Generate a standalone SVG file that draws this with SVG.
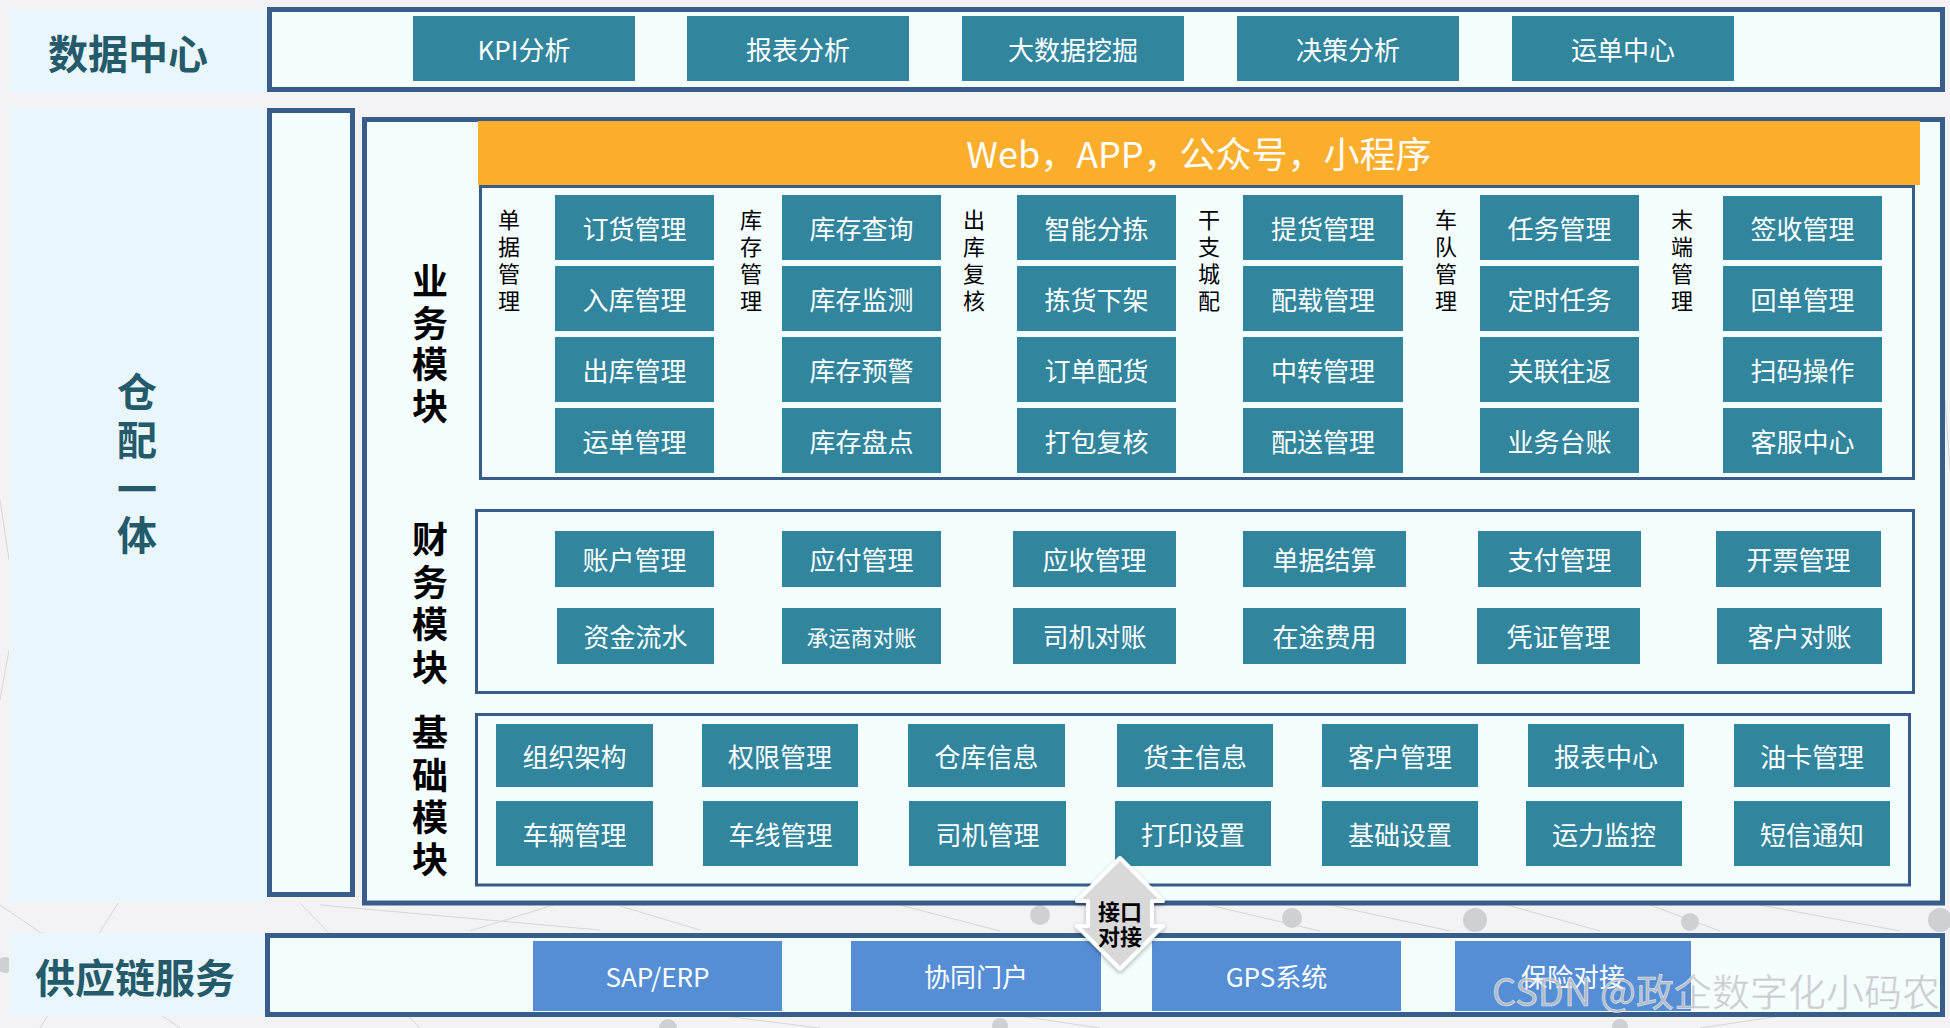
<svg xmlns="http://www.w3.org/2000/svg" width="1950" height="1028" viewBox="0 0 1950 1028">
<defs>
<style>
.lbl{fill:#e9f7fc}
.frm{fill:#f4fefe;stroke:#385d8a;stroke-width:5}
.frm3{fill:#f4fefe;stroke:#385d8a;stroke-width:3}
.t{fill:#31859c}
.b{fill:#558ed5}
.tx{font-family:"Noto Sans CJK SC","Noto Sans",sans-serif;font-size:26px;fill:#ffffff;text-anchor:middle;dominant-baseline:central}
.sm{font-size:22px}
.sub{font-family:"Noto Sans CJK SC","Noto Sans",sans-serif;font-size:22px;fill:#000000;text-anchor:middle;dominant-baseline:central}
.mod{font-family:"Noto Sans CJK SC","Noto Sans",sans-serif;font-size:36px;font-weight:bold;fill:#000000;text-anchor:middle;dominant-baseline:central}
.big{font-family:"Noto Sans CJK SC","Noto Sans",sans-serif;font-size:40px;font-weight:bold;fill:#245a69;text-anchor:middle;dominant-baseline:central}
.net{stroke:#d6d6d9;stroke-width:1;fill:none}
.dot{fill:#cfd0d4}
</style>
<filter id="sh" x="-30%" y="-30%" width="160%" height="160%">
<feDropShadow dx="0" dy="2" stdDeviation="2" flood-color="#000" flood-opacity="0.3"/>
</filter>
</defs>
<rect x="0" y="0" width="1950" height="1028" fill="#f3f3f5"/>
<g id="background-network">
<path class="net" d="M0 905 L180 1028 M120 900 L40 1028 M300 903 L420 1028 M560 903 L470 931 M700 1013 L820 1028 M900 905 L1000 931 M1200 903 L1320 931 M1330 905 L1450 931 M1500 903 L1600 931 M1650 905 L1720 931 M1760 905 L1900 931 M1800 1013 L1700 1028 M1000 1013 L1100 1028 M0 500 L9 560 M0 700 L9 650 M1945 400 L1950 470 M320 905 L600 930 M620 906 L700 930"/>
<circle class="dot" cx="1040" cy="915" r="10"/>
<circle class="dot" cx="1292" cy="918" r="10"/>
<circle class="dot" cx="1475" cy="920" r="12"/>
<circle class="dot" cx="1690" cy="922" r="9"/>
<circle class="dot" cx="1940" cy="920" r="12"/>
<circle class="dot" cx="1000" cy="1026" r="8"/>
<circle class="dot" cx="668" cy="1028" r="9"/>
<circle class="dot" cx="1620" cy="1027" r="8"/>
<circle class="dot" cx="5" cy="965" r="8"/>
</g>
<g id="datacenter-label">
<rect class="lbl" x="9" y="9" width="257" height="84"/>
<text class="big" x="128" y="52">数据中心</text>
</g>
<g id="datacenter">
<rect class="frm" x="269.5" y="9.5" width="1673" height="80"/>
<g id="kpi"><rect class="t" x="413" y="16" width="222" height="65"/><text class="tx" x="524" y="48">KPI分析</text></g>
<g id="baobiao"><rect class="t" x="687" y="16" width="222" height="65"/><text class="tx" x="798" y="48">报表分析</text></g>
<g id="dashuju"><rect class="t" x="962" y="16" width="222" height="65"/><text class="tx" x="1073" y="48">大数据挖掘</text></g>
<g id="juece"><rect class="t" x="1237" y="16" width="222" height="65"/><text class="tx" x="1348" y="48">决策分析</text></g>
<g id="yundan"><rect class="t" x="1512" y="16" width="222" height="65"/><text class="tx" x="1623" y="48">运单中心</text></g>
</g>
<g id="cangpei-label">
<rect class="lbl" x="9" y="109" width="257" height="794"/>
<text class="big" x="137" y="390">仓</text>
<text class="big" x="137" y="438">配</text>
<text class="big" x="137" y="487">一</text>
<text class="big" x="137" y="533">体</text>
</g>
<g id="side-column">
<rect class="frm" x="269.5" y="110.5" width="83" height="784"/>
</g>
<g id="main-frame">
<rect class="frm" x="364.5" y="119.5" width="1578" height="783.5"/>
</g>
<g id="channels">
<rect x="478" y="121" width="1442" height="64" fill="#fbae2c"/>
<text class="tx" style="font-size:36px" x="1199" y="152">Web，APP，公众号，小程序</text>
</g>
<g id="business-module">
<rect class="frm3" x="480.5" y="186.5" width="1433" height="292"/>
<text class="mod" x="430" y="279">业</text>
<text class="mod" x="430" y="321">务</text>
<text class="mod" x="430" y="362">模</text>
<text class="mod" x="430" y="404">块</text>
<g id="danju">
<text class="sub" x="509" y="218">单</text><text class="sub" x="509" y="245">据</text><text class="sub" x="509" y="272">管</text><text class="sub" x="509" y="299">理</text>
<rect class="t" x="555" y="195" width="159" height="65"/><text class="tx" x="634.5" y="227">订货管理</text>
<rect class="t" x="555" y="266" width="159" height="65"/><text class="tx" x="634.5" y="298">入库管理</text>
<rect class="t" x="555" y="337" width="159" height="65"/><text class="tx" x="634.5" y="369">出库管理</text>
<rect class="t" x="555" y="408" width="159" height="65"/><text class="tx" x="634.5" y="440">运单管理</text>
</g>
<g id="kucun">
<text class="sub" x="751" y="218">库</text><text class="sub" x="751" y="245">存</text><text class="sub" x="751" y="272">管</text><text class="sub" x="751" y="299">理</text>
<rect class="t" x="782" y="195" width="159" height="65"/><text class="tx" x="861.5" y="227">库存查询</text>
<rect class="t" x="782" y="266" width="159" height="65"/><text class="tx" x="861.5" y="298">库存监测</text>
<rect class="t" x="782" y="337" width="159" height="65"/><text class="tx" x="861.5" y="369">库存预警</text>
<rect class="t" x="782" y="408" width="159" height="65"/><text class="tx" x="861.5" y="440">库存盘点</text>
</g>
<g id="chuku">
<text class="sub" x="974" y="218">出</text><text class="sub" x="974" y="245">库</text><text class="sub" x="974" y="272">复</text><text class="sub" x="974" y="299">核</text>
<rect class="t" x="1017" y="195" width="159" height="65"/><text class="tx" x="1096.5" y="227">智能分拣</text>
<rect class="t" x="1017" y="266" width="159" height="65"/><text class="tx" x="1096.5" y="298">拣货下架</text>
<rect class="t" x="1017" y="337" width="159" height="65"/><text class="tx" x="1096.5" y="369">订单配货</text>
<rect class="t" x="1017" y="408" width="159" height="65"/><text class="tx" x="1096.5" y="440">打包复核</text>
</g>
<g id="ganzhi">
<text class="sub" x="1209" y="218">干</text><text class="sub" x="1209" y="245">支</text><text class="sub" x="1209" y="272">城</text><text class="sub" x="1209" y="299">配</text>
<rect class="t" x="1243" y="195" width="160" height="65"/><text class="tx" x="1323" y="227">提货管理</text>
<rect class="t" x="1243" y="266" width="160" height="65"/><text class="tx" x="1323" y="298">配载管理</text>
<rect class="t" x="1243" y="337" width="160" height="65"/><text class="tx" x="1323" y="369">中转管理</text>
<rect class="t" x="1243" y="408" width="160" height="65"/><text class="tx" x="1323" y="440">配送管理</text>
</g>
<g id="chedui">
<text class="sub" x="1446" y="218">车</text><text class="sub" x="1446" y="245">队</text><text class="sub" x="1446" y="272">管</text><text class="sub" x="1446" y="299">理</text>
<rect class="t" x="1480" y="195" width="159" height="65"/><text class="tx" x="1559.5" y="227">任务管理</text>
<rect class="t" x="1480" y="266" width="159" height="65"/><text class="tx" x="1559.5" y="298">定时任务</text>
<rect class="t" x="1480" y="337" width="159" height="65"/><text class="tx" x="1559.5" y="369">关联往返</text>
<rect class="t" x="1480" y="408" width="159" height="65"/><text class="tx" x="1559.5" y="440">业务台账</text>
</g>
<g id="moduan">
<text class="sub" x="1682" y="218">末</text><text class="sub" x="1682" y="245">端</text><text class="sub" x="1682" y="272">管</text><text class="sub" x="1682" y="299">理</text>
<rect class="t" x="1723" y="196" width="159" height="64"/><text class="tx" x="1802.5" y="227">签收管理</text>
<rect class="t" x="1723" y="266" width="159" height="65"/><text class="tx" x="1802.5" y="298">回单管理</text>
<rect class="t" x="1723" y="337" width="159" height="65"/><text class="tx" x="1802.5" y="369">扫码操作</text>
<rect class="t" x="1723" y="408" width="159" height="65"/><text class="tx" x="1802.5" y="440">客服中心</text>
</g>
</g>
<g id="finance-module">
<rect class="frm3" x="476.5" y="510.5" width="1437" height="182"/>
<text class="mod" x="430" y="537">财</text>
<text class="mod" x="430" y="580">务</text>
<text class="mod" x="430" y="622">模</text>
<text class="mod" x="430" y="665">块</text>
<g id="zhanghu"><rect class="t" x="555" y="531" width="159" height="56"/><text class="tx" x="634.5" y="558.5">账户管理</text></g>
<g id="yingfu"><rect class="t" x="782" y="531" width="159" height="56"/><text class="tx" x="861.5" y="558.5">应付管理</text></g>
<g id="yingshou"><rect class="t" x="1013" y="531" width="163" height="56"/><text class="tx" x="1094.5" y="558.5">应收管理</text></g>
<g id="danjujiesuan"><rect class="t" x="1243" y="531" width="163" height="56"/><text class="tx" x="1324.5" y="558.5">单据结算</text></g>
<g id="zhifu"><rect class="t" x="1478" y="531" width="163" height="56"/><text class="tx" x="1559.5" y="558.5">支付管理</text></g>
<g id="kaipiao"><rect class="t" x="1716" y="531" width="165" height="56"/><text class="tx" x="1798.5" y="558.5">开票管理</text></g>
<g id="zijin"><rect class="t" x="557" y="608" width="157" height="56"/><text class="tx" x="635.5" y="635.5">资金流水</text></g>
<g id="chengyunshang"><rect class="t" x="782" y="608" width="159" height="56"/><text class="tx sm" x="861.5" y="635.5">承运商对账</text></g>
<g id="siji"><rect class="t" x="1013" y="608" width="163" height="56"/><text class="tx" x="1094.5" y="635.5">司机对账</text></g>
<g id="zaitu"><rect class="t" x="1243" y="608" width="163" height="56"/><text class="tx" x="1324.5" y="635.5">在途费用</text></g>
<g id="pingzheng"><rect class="t" x="1477" y="608" width="163" height="56"/><text class="tx" x="1558.5" y="635.5">凭证管理</text></g>
<g id="kehuduizhang"><rect class="t" x="1717" y="608" width="165" height="56"/><text class="tx" x="1799.5" y="635.5">客户对账</text></g>
</g>
<g id="base-module">
<rect class="frm3" x="476.5" y="714.5" width="1433" height="170.5"/>
<text class="mod" x="430" y="730">基</text>
<text class="mod" x="430" y="773">础</text>
<text class="mod" x="430" y="815">模</text>
<text class="mod" x="430" y="857">块</text>
<g id="zuzhi"><rect class="t" x="496" y="724" width="157" height="63"/><text class="tx" x="574.5" y="755">组织架构</text></g>
<g id="quanxian"><rect class="t" x="702" y="724" width="156" height="63"/><text class="tx" x="780" y="755">权限管理</text></g>
<g id="cangku"><rect class="t" x="908" y="724" width="157" height="63"/><text class="tx" x="986.5" y="755">仓库信息</text></g>
<g id="huozhu"><rect class="t" x="1117" y="724" width="156" height="63"/><text class="tx" x="1195" y="755">货主信息</text></g>
<g id="kehu"><rect class="t" x="1322" y="724" width="156" height="63"/><text class="tx" x="1400" y="755">客户管理</text></g>
<g id="baobiaozx"><rect class="t" x="1528" y="724" width="156" height="63"/><text class="tx" x="1606" y="755">报表中心</text></g>
<g id="youka"><rect class="t" x="1734" y="724" width="156" height="63"/><text class="tx" x="1812" y="755">油卡管理</text></g>
<g id="cheliang"><rect class="t" x="496" y="801" width="157" height="65"/><text class="tx" x="574.5" y="833">车辆管理</text></g>
<g id="chexian"><rect class="t" x="703" y="801" width="155" height="65"/><text class="tx" x="780.5" y="833">车线管理</text></g>
<g id="sijiguanli"><rect class="t" x="909" y="801" width="157" height="65"/><text class="tx" x="987.5" y="833">司机管理</text></g>
<g id="dayin"><rect class="t" x="1115" y="801" width="156" height="65"/><text class="tx" x="1193" y="833">打印设置</text></g>
<g id="jichu"><rect class="t" x="1322" y="801" width="156" height="65"/><text class="tx" x="1400" y="833">基础设置</text></g>
<g id="yunli"><rect class="t" x="1526" y="801" width="156" height="65"/><text class="tx" x="1604" y="833">运力监控</text></g>
<g id="duanxin"><rect class="t" x="1734" y="801" width="156" height="65"/><text class="tx" x="1812" y="833">短信通知</text></g>
</g>
<g id="supply-label">
<rect class="lbl" x="9" y="933" width="257" height="83"/>
<text class="big" x="135" y="976">供应链服务</text>
</g>
<g id="supply-chain">
<rect class="frm" x="267.5" y="935.5" width="1675" height="79"/>
<g id="sap"><rect class="b" x="533" y="941" width="249" height="70"/><text class="tx" x="657.5" y="975.5">SAP/ERP</text></g>
<g id="xietong"><rect class="b" x="851" y="941" width="250" height="70"/><text class="tx" x="976" y="975.5">协同门户</text></g>
<g id="gps"><rect class="b" x="1152" y="941" width="249" height="70"/><text class="tx" x="1276.5" y="975.5">GPS系统</text></g>
<g id="baoxian"><rect class="b" x="1455" y="941" width="236" height="70"/><text class="tx" x="1573" y="975.5">保险对接</text></g>
</g>
<g id="connectors">
<polygon points="1120,858 1163,901 1152,901 1152,926 1163,926 1120,969 1077,926 1088,926 1088,901 1077,901" fill="#d9d9d9" stroke="#ffffff" stroke-width="4" stroke-linejoin="round" filter="url(#sh)"/>
<text x="1120" y="910" style="font-family:'Noto Sans CJK SC','Noto Sans',sans-serif;font-size:22px;font-weight:bold;fill:#000;text-anchor:middle;dominant-baseline:central">接口</text>
<text x="1120" y="935" style="font-family:'Noto Sans CJK SC','Noto Sans',sans-serif;font-size:22px;font-weight:bold;fill:#000;text-anchor:middle;dominant-baseline:central">对接</text>
</g>
<g id="watermark">
<text x="1492" y="1006" textLength="448" lengthAdjust="spacingAndGlyphs" style="font-family:'Noto Sans CJK SC','Noto Sans',sans-serif;font-size:38px;fill:#c4c4c8;fill-opacity:0.85;stroke:#ffffff;stroke-width:0.6;stroke-opacity:0.7">CSDN @政企数字化小码农</text>
</g>
</svg>
